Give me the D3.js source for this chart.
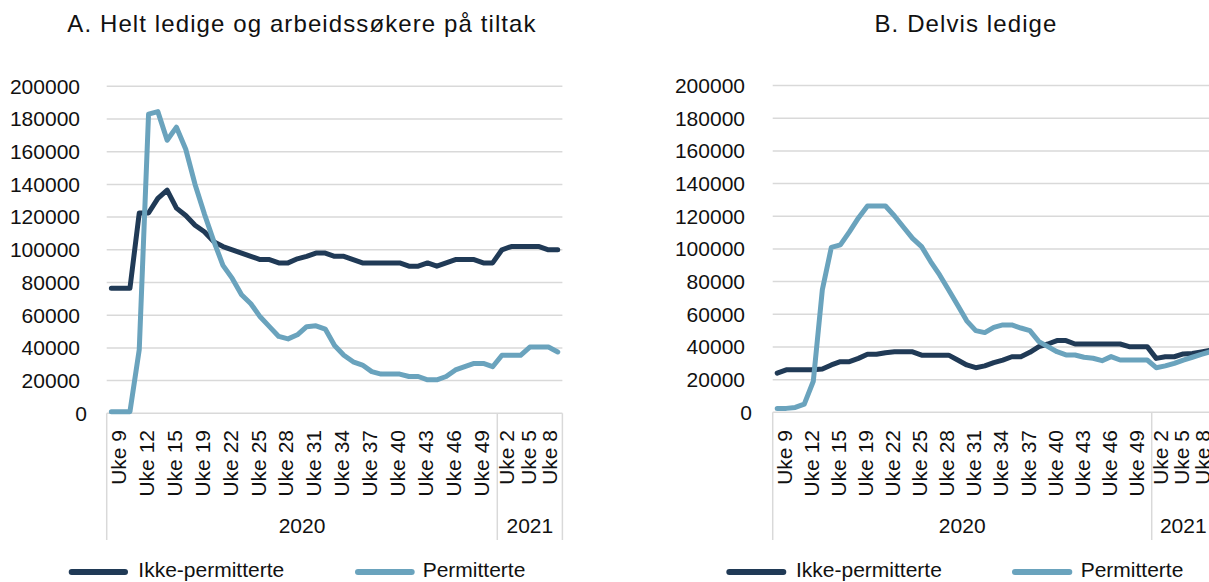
<!DOCTYPE html>
<html><head><meta charset="utf-8">
<script src="https://cdn.jsdelivr.net/npm/d3@7"></script>
<style>
html,body{margin:0;padding:0;background:#fff;overflow:hidden;}
svg{display:block;font-family:"Liberation Sans",Arial,sans-serif;}
</style></head><body>
<svg id="chart" width="1209" height="582"></svg>
<script>
// ---------- data ----------
const weeks2020 = [9,10,11,12,13,14,15,16,17,19,20,21,22,23,24,25,26,27,28,29,30,31,32,33,34,35,36,37,38,39,40,41,42,43,44,45,46,47,48,49,50,51];
const weeks2021 = [2,3,4,5,6,7,8];
const years = ["2020","2021"];
const seriesNames = ["Ikke-permitterte","Permitterte"];
const yTicks = [0,20000,40000,60000,80000,100000,120000,140000,160000,180000,200000];
const titleA = "A. Helt ledige og arbeidssøkere på tiltak";
const titleB = "B. Delvis ledige";

const ikkePermA = [76500,76500,76500,122500,122500,131500,136500,125500,121000,115000,111000,105000,102000,100000,98000,96000,94000,94000,92000,92000,94500,96000,98000,98000,96000,96000,94000,92000,92000,92000,92000,92000,90000,90000,92000,90000,92000,94000,94000,94000,92000,92000,100000,102000,102000,102000,102000,100000,100000];
const permA = [1000,1000,1000,39000,183000,184500,167000,175000,161500,140000,122000,105500,90500,82500,72500,67000,59000,53000,47000,45500,48000,53000,53500,51500,41500,35500,31500,29500,25500,24000,24000,24000,22500,22500,20500,20500,22500,26500,28500,30500,30500,28500,35500,35500,35500,40500,40500,40500,37500];
const ikkePermB = [24000,26000,26000,26000,26000,26500,29000,31000,31000,33000,35500,35500,36500,37000,37000,37000,35000,35000,35000,35000,32000,29000,27300,28400,30400,32000,34000,34000,36700,40200,41800,43900,43900,41800,41800,41800,41800,41800,41800,40200,40200,40200,33000,34000,34000,35700,36000,37000,38000];
const permB = [2400,2400,3000,5000,19000,75000,101000,102500,110500,119000,126300,126300,126300,120200,113300,106500,101400,92300,84100,74900,65500,56000,50000,48800,52000,53500,53500,51600,50000,43300,40200,37100,35100,35100,33700,33100,31600,34100,32000,32000,32000,32000,27300,28400,30000,32000,33700,35500,37100];

// ---------- layout / style ----------
const colors = {dark:"#203a56", light:"#6aa3bd", grid:"#d9d9d9", text:"#111"};
const cats = weeks2020.map(w => "2020-" + w).concat(weeks2021.map(w => "2021-" + w));
const catLabel = c => "Uke " + c.split("-")[1];

const panels = [
  {title:titleA, series:[ikkePermA, permA], x0:106.7, x1:562.4, y0:413.3, y1:86.3, titleX:302,
   labelGap:26.7, legend:[[71.7,125,138.3],[358,411.7,422.7]]},
  {title:titleB, series:[ikkePermB, permB], x0:772.7, x1:772.7 + 49*9.024, y0:412.3, y1:85.6, titleX:966,
   labelGap:27.7, legend:[[729.3,783.3,796],[1015,1069.3,1080.7]]}
];
const svg = d3.select("#chart");
const FS = 21;

panels.forEach(p => {
  const g = svg.append("g");
  const x = d3.scaleBand().domain(cats).range([p.x0, p.x1]).paddingInner(0).paddingOuter(0);
  const bw = x.bandwidth();
  const xc = c => x(c) + bw / 2;
  const y = d3.scaleLinear().domain([0, 200000]).range([p.y0, p.y1]);

  // title
  g.append("text").attr("x", p.titleX).attr("y", 32).attr("text-anchor", "middle")
    .attr("font-size", 24).attr("letter-spacing", 1.1).attr("fill", colors.text).text(p.title);

  // gridlines
  g.selectAll("line.grid").data(yTicks).join("line").attr("class", "grid")
    .attr("x1", p.x0).attr("x2", p.x1).attr("y1", d => y(d)).attr("y2", d => y(d))
    .attr("stroke", colors.grid).attr("stroke-width", 1.5);

  // y labels
  g.selectAll("text.ylab").data(yTicks).join("text").attr("class", "ylab")
    .attr("x", d => p.x0 - p.labelGap + (d === 0 ? 7 : 0)).attr("y", d => y(d)).attr("dy", "0.35em")
    .attr("text-anchor", "end").attr("font-size", FS).attr("fill", colors.text).text(d => String(d));

  // category axis separators
  const divider = x(cats[weeks2020.length]);
  [p.x0, divider, p.x1].forEach(v => {
    g.append("line").attr("x1", v).attr("x2", v).attr("y1", p.y0).attr("y2", 540)
      .attr("stroke", colors.grid).attr("stroke-width", 1.5);
  });

  // week labels (every 3rd category)
  const lab2021 = cats.filter((c, i) => i % 3 === 0 && c.startsWith("2021"));
  const slot2021 = d3.scaleBand().domain(lab2021).range([divider, p.x1]);
  cats.forEach((c, i) => {
    if (i % 3 !== 0) return;
    const lx = c.startsWith("2020") ? xc(c) + 7.3 : slot2021(c) + slot2021.bandwidth() / 2 - 1.5;
    g.append("text").attr("transform", `translate(${lx},430) rotate(-90)`)
      .attr("dy", "0.35em").attr("text-anchor", "end").attr("font-size", FS)
      .attr("fill", colors.text).text(catLabel(c));
  });

  // year labels
  const yearRanges = [[p.x0, divider], [divider, p.x1]];
  years.forEach((yr, k) => {
    g.append("text").attr("x", (yearRanges[k][0] + yearRanges[k][1]) / 2).attr("y", 533)
      .attr("text-anchor", "middle").attr("font-size", FS).attr("fill", colors.text).text(yr);
  });

  // lines
  const lineGen = d3.line().x((d, i) => xc(cats[i])).y(d => y(d));
  const lineColors = [colors.dark, colors.light];
  p.series.forEach((s, k) => {
    g.append("path").datum(s).attr("d", lineGen).attr("fill", "none")
      .attr("stroke", lineColors[k]).attr("stroke-width", 5)
      .attr("stroke-linejoin", "round").attr("stroke-linecap", "round");
  });

  // legend
  p.legend.forEach((L, k) => {
    g.append("line").attr("x1", L[0]).attr("x2", L[1]).attr("y1", 572).attr("y2", 572)
      .attr("stroke", lineColors[k]).attr("stroke-width", 6).attr("stroke-linecap", "round");
    g.append("text").attr("x", L[2]).attr("y", 577).attr("font-size", FS)
      .attr("fill", colors.text).text(seriesNames[k]);
  });
});
</script>
</body></html>
